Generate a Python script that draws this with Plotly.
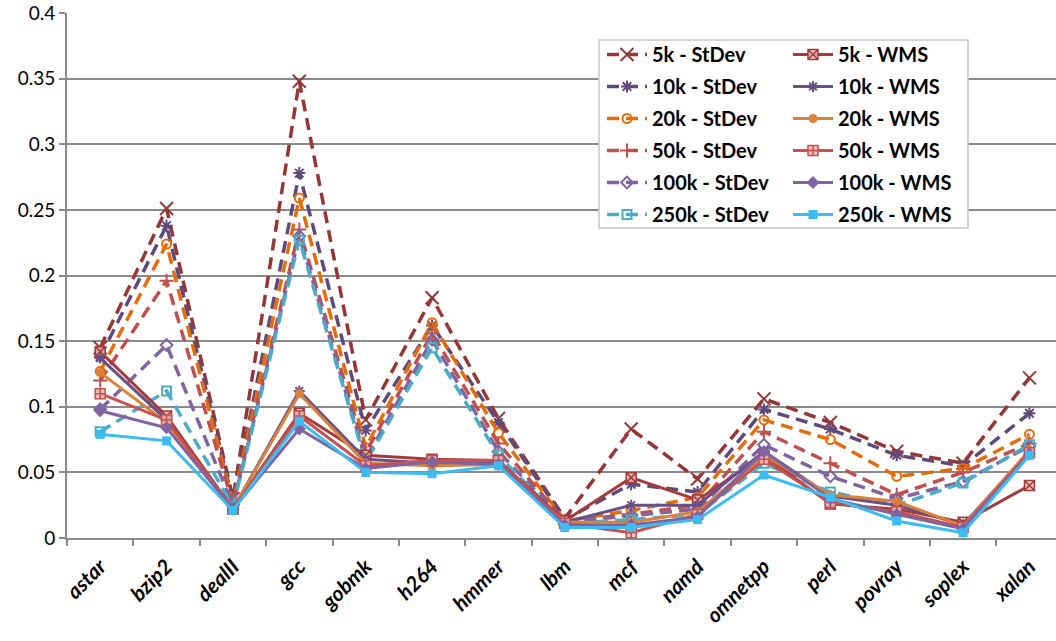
import plotly.graph_objects as go

# Benchmarks on the x axis
benchmarks = ["astar", "bzip2", "dealII", "gcc", "gobmk", "h264", "hmmer", "lbm",
              "mcf", "namd", "omnetpp", "perl", "povray", "soplex", "xalan"]

# StDev series (dashed)
stdev_5k   = [0.145, 0.251, 0.030, 0.348, 0.090, 0.183, 0.091, 0.015, 0.083, 0.045, 0.106, 0.088, 0.066, 0.057, 0.122]
stdev_10k  = [0.138, 0.238, 0.028, 0.278, 0.082, 0.162, 0.088, 0.014, 0.041, 0.035, 0.098, 0.083, 0.063, 0.055, 0.095]
stdev_20k  = [0.127, 0.224, 0.027, 0.259, 0.069, 0.164, 0.080, 0.013, 0.021, 0.031, 0.090, 0.075, 0.047, 0.053, 0.079]
stdev_50k  = [0.120, 0.196, 0.026, 0.235, 0.065, 0.156, 0.072, 0.013, 0.018, 0.025, 0.081, 0.057, 0.033, 0.050, 0.072]
stdev_100k = [0.098, 0.147, 0.025, 0.230, 0.060, 0.151, 0.066, 0.012, 0.017, 0.022, 0.071, 0.047, 0.030, 0.043, 0.070]
stdev_250k = [0.081, 0.112, 0.024, 0.227, 0.058, 0.145, 0.063, 0.011, 0.014, 0.018, 0.057, 0.035, 0.025, 0.042, 0.071]

# WMS series (solid)
wms_5k   = [0.142, 0.093, 0.022, 0.095, 0.063, 0.060, 0.059, 0.013, 0.046, 0.029, 0.063, 0.026, 0.022, 0.012, 0.040]
wms_10k  = [0.137, 0.090, 0.022, 0.112, 0.060, 0.057, 0.057, 0.012, 0.025, 0.025, 0.066, 0.032, 0.025, 0.010, 0.066]
wms_20k  = [0.126, 0.088, 0.022, 0.110, 0.057, 0.055, 0.056, 0.012, 0.012, 0.020, 0.063, 0.033, 0.028, 0.009, 0.067]
wms_50k  = [0.110, 0.090, 0.022, 0.093, 0.055, 0.059, 0.059, 0.011, 0.004, 0.018, 0.060, 0.027, 0.020, 0.008, 0.065]
wms_100k = [0.097, 0.084, 0.022, 0.083, 0.053, 0.058, 0.056, 0.010, 0.010, 0.016, 0.066, 0.030, 0.018, 0.007, 0.064]
wms_250k = [0.079, 0.074, 0.021, 0.089, 0.050, 0.049, 0.055, 0.008, 0.008, 0.014, 0.048, 0.031, 0.013, 0.004, 0.063]

y_ticks = [0, 0.05, 0.1, 0.15, 0.2, 0.25, 0.3, 0.35, 0.4]

FONT = "Lato"
GRID = "#8a8a8a"
PINK = "rgba(232,184,183,0.85)"

# (name, values, color, symbol, fill, size)
stdev_specs = [
    ("5k - StDev", stdev_5k, "#953735", "x-thin", None, 13),
    ("10k - StDev", stdev_10k, "#604a7b", "asterisk", None, 10),
    ("20k - StDev", stdev_20k, "#e46c0a", "circle-open", None, 9),
    ("50k - StDev", stdev_50k, "#c0504d", "cross-thin", None, 10),
    ("100k - StDev", stdev_100k, "#8064a2", "diamond-open", None, 9),
    ("250k - StDev", stdev_250k, "#4bacc6", "square-open", None, 9),
]
wms_specs = [
    ("5k - WMS", wms_5k, "#a33d3b", "square-x", PINK, 10),
    ("10k - WMS", wms_10k, "#6a5088", "asterisk", None, 9),
    ("20k - WMS", wms_20k, "#d9823b", "circle", None, 9),
    ("50k - WMS", wms_50k, "#c9504d", "square-cross", PINK, 10),
    ("100k - WMS", wms_100k, "#8064a2", "diamond", None, 10),
    ("250k - WMS", wms_250k, "#3cbcf0", "square", None, 9),
]

fig = go.Figure()

def add_series(spec, dashed, legend):
    name, vals, color, symbol, fill, size = spec
    if symbol in ("x-thin", "asterisk", "cross-thin"):
        marker = dict(symbol=symbol, size=size, color=color,
                      line=dict(color=color, width=2))
    elif fill is not None:
        marker = dict(symbol=symbol, size=size, color=fill,
                      line=dict(color=color, width=1.5))
    elif symbol.endswith("-open"):
        marker = dict(symbol=symbol, size=size, color=color,
                      line=dict(color=color, width=2))
    else:
        marker = dict(symbol=symbol, size=size, color=color,
                      line=dict(color=color, width=0))
    fig.add_trace(go.Scatter(
        x=benchmarks, y=vals, name=name, mode="lines+markers",
        line=dict(color=color, width=3.5 if dashed else 3,
                  dash="12px,7px" if dashed else "solid"),
        marker=marker, legend=legend, legendgroup=name,
    ))

for s in stdev_specs:
    add_series(s, True, "legend")
for s in wms_specs:
    add_series(s, False, "legend2")

L, R, T, B = 67, 0, 13, 103
W, H = 1056, 641
pw, ph = W - L - R, H - T - B

def px_x(p):
    return (p - L) / pw

def px_y(p):
    return (H - B - p) / ph

legend_common = dict(
    font=dict(family=FONT, size=20, color="#000000", weight="bold"),
    bgcolor="rgba(0,0,0,0)", borderwidth=0,
    yanchor="top", xanchor="left", y=px_y(35),
    tracegroupgap=3, itemwidth=40,
)

fig.update_layout(
    width=W, height=H,
    margin=dict(l=L, r=R, t=T, b=B, pad=0),
    paper_bgcolor="white", plot_bgcolor="white",
    font=dict(family=FONT, size=18, color="#000000"),
    showlegend=True,
    legend=dict(x=px_x(602), **legend_common),
    legend2=dict(x=px_x(788), **legend_common),
    xaxis=dict(
        type="category", range=[-0.5, 14.4],
        showgrid=False, showline=True, linecolor=GRID, linewidth=2,
        ticks="outside", ticklen=6, tickwidth=2, tickcolor=GRID,
        tickson="boundaries", tickangle=-45, ticklabelstandoff=6,
        tickfont=dict(family=FONT, size=21, color="#000000",
                      weight="bold", style="italic"),
    ),
    yaxis=dict(
        range=[0, 0.4], tickvals=y_ticks,
        ticktext=[f"{v:g}" for v in y_ticks],
        showgrid=True, gridcolor=GRID, gridwidth=2,
        showline=True, linecolor=GRID, linewidth=2, zeroline=False,
        ticks="outside", ticklen=6, tickwidth=2, tickcolor=GRID,
        tickfont=dict(family=FONT, size=19, color="#000000"),
    ),
    shapes=[dict(
        type="rect", xref="paper", yref="paper", layer="above",
        x0=px_x(599), x1=px_x(968), y0=px_y(228), y1=px_y(40),
        line=dict(color="#c8c8c8", width=1.5), fillcolor="white",
    )],
)

fig.write_html("out.html")
